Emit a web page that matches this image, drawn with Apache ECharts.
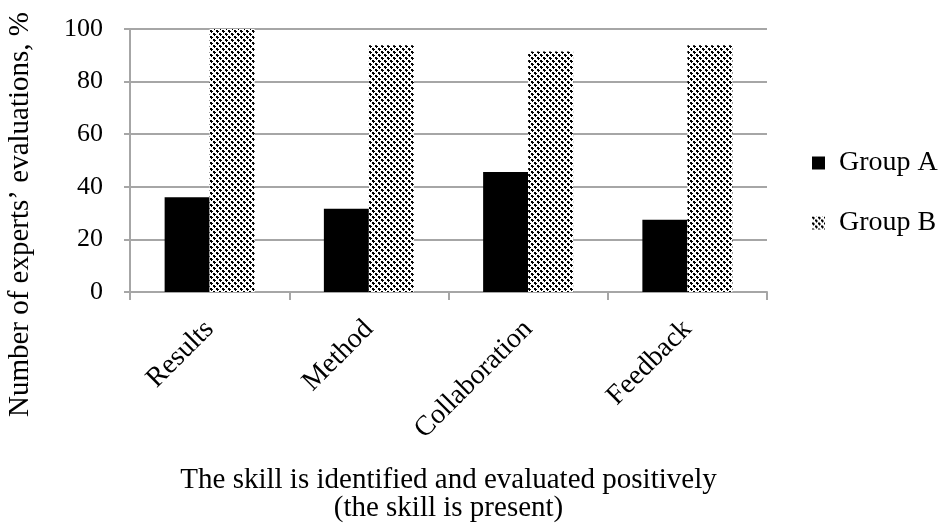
<!DOCTYPE html>
<html lang="en">
    <head>
        <meta charset="utf-8">
        <title>Expert evaluations</title>
        <script src="https://cdn.jsdelivr.net/npm/echarts@6/dist/echarts.min.js"></script>
    </head>
    <body style="margin:0;background:#fff;">
        <div id="main" style="width: 940px;height: 526px;"></div>

        <script type="text/javascript">
            // data
            const categories = ['Results', 'Method', 'Collaboration', 'Feedback'];
            const groupA = [36, 31.7, 45.6, 27.5];
            const groupB = [100, 93.8, 91.4, 93.8];
            const seriesNames = ['Group A', 'Group B'];

            const font = '"Liberation Serif", "DejaVu Serif", serif';
            const gridColor = '#a6a6a6';

            // small checkered tile for Group B
            function makePattern() {
                let c = document.createElement('canvas');
                c.width = 6; c.height = 6;
                let ctx = c.getContext('2d');
                ctx.fillStyle = '#fff';
                ctx.fillRect(0, 0, 6, 6);
                ctx.fillStyle = '#000';
                ctx.fillRect(0, 0, 2, 2);
                ctx.fillRect(3, 3, 2, 2);
                ctx.fillRect(2, 1, 1, 1);
                ctx.fillRect(5, 4, 1, 1);
                ctx.fillRect(1, 2, 1, 1);
                ctx.fillRect(4, 5, 1, 1);
                return c;
            }

            let myChart = echarts.init(document.getElementById('main'));

            let options = {
                animation: false,
                backgroundColor: '#fff',
                textStyle: { fontFamily: font, color: '#000' },
                grid: { left: 130, right: 173, top: 29, bottom: 234, containLabel: false },
                legend: {
                    orient: 'vertical',
                    left: 807,
                    top: 144,
                    itemWidth: 13,
                    itemHeight: 13,
                    itemGap: 32,
                    icon: 'rect',
                    textStyle: { fontFamily: font, fontSize: 28, color: '#000', padding: [0, 0, 0, 9] },
                    data: seriesNames
                },
                xAxis: {
                    type: 'category',
                    data: categories,
                    axisLine: { lineStyle: { color: gridColor, width: 2 } },
                    axisTick: { show: true, length: 8, lineStyle: { color: gridColor, width: 2 } },
                    axisLabel: { rotate: 45, fontFamily: font, fontSize: 28, color: '#000', margin: 33 },
                    name: 'The skill is identified and evaluated positively\n(the skill is present)',
                    nameLocation: 'middle',
                    nameGap: 174,
                    nameTextStyle: { fontFamily: font, fontSize: 29, color: '#000', lineHeight: 28 }
                },
                yAxis: {
                    type: 'value',
                    min: 0,
                    max: 100,
                    interval: 20,
                    axisLine: { show: true, lineStyle: { color: gridColor, width: 2 } },
                    axisTick: { show: true, length: 6, lineStyle: { color: gridColor, width: 2 } },
                    axisLabel: { fontFamily: font, fontSize: 26, color: '#000', margin: 27 },
                    splitLine: { lineStyle: { color: gridColor, width: 2 } }
                },
                graphic: [{
                    type: 'text',
                    left: 6,
                    top: 12,
                    rotation: Math.PI / 2,
                    style: {
                        text: 'Number of experts\u2019 evaluations, %',
                        font: '29px ' + font,
                        fill: '#000'
                    }
                }],
                series: [{
                    name: seriesNames[0],
                    type: 'bar',
                    barWidth: 45,
                    barGap: '0%',
                    itemStyle: { color: '#000' },
                    data: groupA
                }, {
                    name: seriesNames[1],
                    type: 'bar',
                    barWidth: 45,
                    barGap: '0%',
                    itemStyle: { color: { image: makePattern(), repeat: 'repeat' } },
                    data: groupB
                }]
            };

            myChart.setOption(options);
        </script>
    </body>
</html>
